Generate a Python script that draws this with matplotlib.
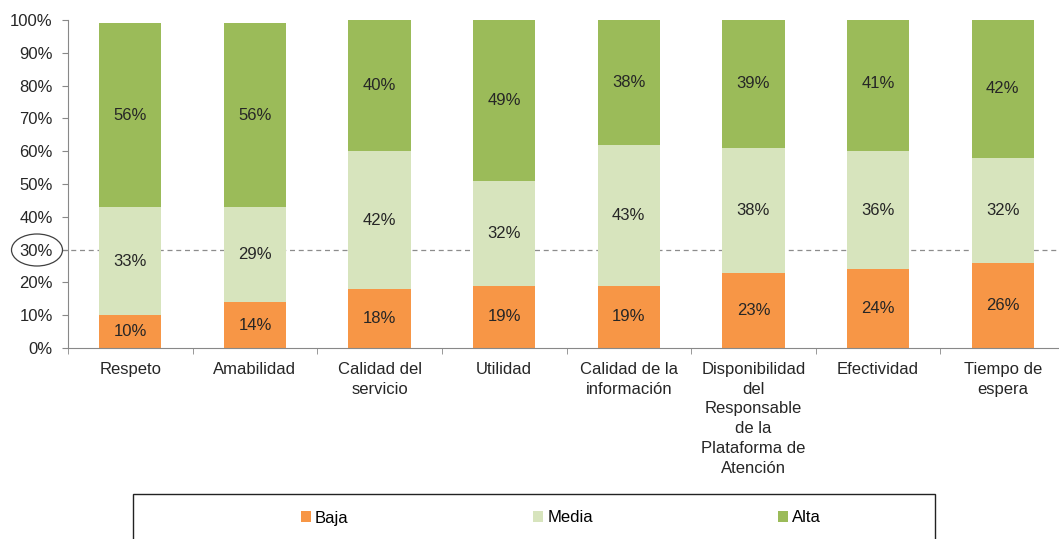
import numpy as np
import matplotlib
matplotlib.use("Agg")
import matplotlib.pyplot as plt
from matplotlib.patches import Rectangle, Ellipse
from matplotlib.ticker import PercentFormatter

plt.rcParams['font.family'] = ['Liberation Sans', 'DejaVu Sans']

# datos por categoría (porcentajes)
categorias = ["Respeto", "Amabilidad", "Calidad del\nservicio", "Utilidad",
              "Calidad de la\ninformación",
              "Disponibilidad\ndel\nResponsable\nde la\nPlataforma de\nAtención",
              "Efectividad", "Tiempo de\nespera"]
baja = [10, 14, 18, 19, 19, 23, 24, 26]
media = [33, 29, 42, 32, 43, 38, 36, 32]
alta = [56, 56, 40, 49, 38, 39, 41, 42]
series = ["Baja", "Media", "Alta"]
colores = ["#F79646", "#D7E4BD", "#9BBB59"]
linea_ref = 30

W, H = 1059, 539
fig = plt.figure(figsize=(W / 100, H / 100), dpi=100)
ax = fig.add_axes([68 / W, 1 - 348 / H, 997 / W, 328 / H])

x = np.arange(len(categorias))
base = np.zeros(len(categorias))
barras = []
for nombre, valores, color in zip(series, [baja, media, alta], colores):
    valores = np.array(valores, dtype=float)
    b = ax.bar(x, valores, 0.5, bottom=base, color=color, label=nombre, zorder=2)
    barras.append(b)
    for xi, yb, v in zip(x, base, valores):
        ax.text(xi, yb + v / 2, f"{v:.0f}%", ha="center", va="center",
                fontsize=12, color="#262626", zorder=3)
    base += valores

ax.set_xlim(-0.5, len(categorias) - 0.5)
ax.set_ylim(0, 100)
ax.set_yticks(np.arange(0, 101, 10))
ax.yaxis.set_major_formatter(PercentFormatter(decimals=0))
ax.set_xticks(x)
ax.set_xticklabels(categorias, fontsize=12, linespacing=1.4)
ax.set_xticks(np.arange(-0.5, len(categorias), 1), minor=True)
ax.tick_params(axis="x", which="major", length=0, pad=10, colors="#262626")
ax.tick_params(axis="x", which="minor", length=4, color="#888888")
ax.tick_params(axis="y", length=4, color="#888888", pad=7, labelsize=12,
               labelcolor="#262626")

for s in ["top", "right"]:
    ax.spines[s].set_visible(False)
for s in ["left", "bottom"]:
    ax.spines[s].set_color("#888888")

# línea de referencia al 30%
ax.axhline(linea_ref, xmin=-0.006, xmax=0.995, color="#8c8c8c", lw=0.9,
           ls=(0, (4, 3)), clip_on=False, zorder=1)

# óvalo sobre la etiqueta del 30%
fig.patches.append(Ellipse((37 / W, 1 - 250 / H), 51 / W, 32 / H,
                           transform=fig.transFigure, fill=False,
                           edgecolor="#404040", lw=0.9))

# recuadro y leyenda inferior
fig.patches.append(Rectangle((133 / W, 1 - 545 / H), 802 / W, 51 / H,
                             transform=fig.transFigure, fill=False,
                             edgecolor="#222222", lw=1.0))
fig.legend(handles=barras, labels=series, loc="center",
           bbox_to_anchor=(561 / W, 1 - 518 / H), ncol=3, frameon=False,
           fontsize=12, handlelength=0.6, handleheight=0.6,
           handletextpad=0.25, columnspacing=11.1)

fig.savefig("out.png", dpi=100)
